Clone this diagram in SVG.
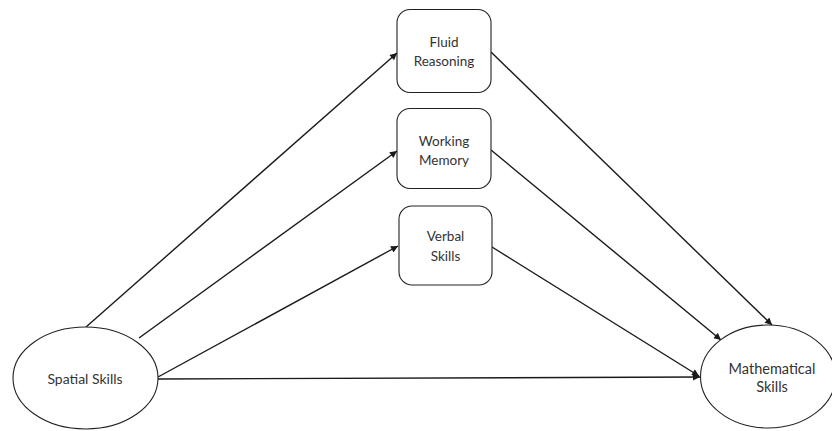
<svg xmlns="http://www.w3.org/2000/svg" width="832" height="431" viewBox="0 0 832 431">
<defs>
<marker id="ah" viewBox="0 0 10 10" refX="10" refY="5" markerWidth="9" markerHeight="7" markerUnits="userSpaceOnUse" orient="auto">
<path d="M0,0 L10,5 L0,10 z" fill="#1a1a1a"/>
</marker>
<style>
.n{fill:#fff;stroke:#222;stroke-width:1.1}
.t{font-family:Lato,"Open Sans","Liberation Sans",sans-serif;font-size:13.5px;fill:#333;text-anchor:middle}
.e{stroke:#1a1a1a;stroke-width:1.4;fill:none;marker-end:url(#ah)}
</style>
</defs>
<rect width="832" height="431" fill="#fff"/>
<g id="connectors">
<line class="e" x1="86" y1="327" x2="397" y2="53"/>
<line class="e" x1="139" y1="338" x2="397" y2="151"/>
<line class="e" x1="158" y1="377" x2="398" y2="246"/>
<line class="e" x1="158" y1="379" x2="700" y2="377"/>
<line class="e" x1="491" y1="52" x2="772" y2="325"/>
<line class="e" x1="491" y1="150" x2="721" y2="340"/>
<line class="e" x1="492" y1="247" x2="699" y2="376"/>
</g>
<g id="fluid">
<rect class="n" x="397" y="9.5" width="94" height="83" rx="13"/>
<text class="t" x="444" y="47">Fluid</text>
<text class="t" x="444" y="66">Reasoning</text>
</g>
<g id="working">
<rect class="n" x="397" y="108.5" width="94" height="80" rx="13"/>
<text class="t" x="444" y="146">Working</text>
<text class="t" x="444" y="165">Memory</text>
</g>
<g id="verbal">
<rect class="n" x="399" y="206" width="93" height="79" rx="13"/>
<text class="t" x="445.5" y="241">Verbal</text>
<text class="t" x="445.5" y="261">Skills</text>
</g>
<g id="spatial">
<ellipse class="n" cx="85.5" cy="378" rx="72.5" ry="51"/>
<text class="t" x="85" y="384" style="font-size:14px">Spatial Skills</text>
</g>
<g id="math">
<ellipse class="n" cx="768" cy="376.5" rx="67.5" ry="51.5"/>
<text class="t" x="772" y="374" style="font-size:14.5px">Mathematical</text>
<text class="t" x="772" y="392" style="font-size:14.5px">Skills</text>
</g>
</svg>
